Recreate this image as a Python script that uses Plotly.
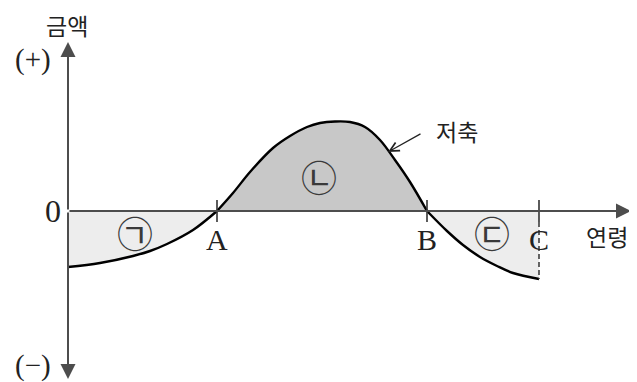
import plotly.graph_objects as go

# Schematic values (age on x, amount on y; origin at axes crossing)
age_a = 149
age_b = 359
age_c = 471

seg1_x = [0, 32, 65, 82, 99, 125, 149]
seg1_y = [-56, -52, -45, -40, -33, -19, 0]

seg2_x = [149, 165, 182, 205, 222, 239, 252, 267, 282, 297, 312, 327, 342, 359]
seg2_y = [0, 18, 39, 63, 75, 84, 88, 89.5, 89, 84, 71, 51, 29, 0]

seg3_x = [359, 379, 395, 412, 429, 445, 471]
seg3_y = [0, -20, -34, -46, -55, -62, -68]

point_labels = ["A", "B", "C"]
region_labels = ["㉠", "㉡", "㉢"]

SERIF = "Liberation Serif, Times New Roman, serif"
KR = "Noto Sans CJK KR, sans-serif"
AXC = "#4d4d4d"

fig = go.Figure()

fig.add_trace(go.Scatter(x=seg1_x, y=seg1_y, mode="lines", fill="tozeroy",
                         fillcolor="#ededed", line=dict(color="black", width=2.4, shape="spline"),
                         hoverinfo="skip"))
fig.add_trace(go.Scatter(x=seg2_x, y=seg2_y, mode="lines", fill="tozeroy",
                         fillcolor="#c8c8c8", line=dict(color="black", width=2.4, shape="spline"),
                         hoverinfo="skip"))
fig.add_trace(go.Scatter(x=seg3_x, y=seg3_y, mode="lines", fill="tozeroy",
                         fillcolor="#ededed", line=dict(color="black", width=2.4, shape="spline"),
                         hoverinfo="skip"))

shapes = []
# tick marks at A, B, C
for xv in [age_a, age_b, age_c]:
    shapes.append(dict(type="line", x0=xv, x1=xv, y0=11, y1=-11,
                       line=dict(color="#333333", width=1.6), layer="above"))
# dashed line at C down to curve end
shapes.append(dict(type="line", x0=age_c, x1=age_c, y0=-11, y1=seg3_y[-1],
                   line=dict(color="#333333", width=1.5, dash="5px,3px"), layer="above"))

annotations = []
# axes with arrows
for tip in [(563, 0), (0, 169), (0, -168)]:
    annotations.append(dict(x=tip[0], y=tip[1], ax=0, ay=0, xref="x", yref="y",
                            axref="x", ayref="y", text="", showarrow=True,
                            arrowhead=2, arrowwidth=2, arrowsize=1.5, arrowcolor=AXC))
# arrow for 저축
annotations.append(dict(x=320, y=59, ax=354, ay=78, xref="x", yref="y", axref="x", ayref="y",
                        text="", showarrow=True, arrowhead=5, arrowwidth=1.3, arrowsize=1.4,
                        arrowcolor="#222222"))

def txt(x, y, s, size, family, color="#222222"):
    annotations.append(dict(x=x, y=y, xref="x", yref="y", text=s, showarrow=False,
                            font=dict(size=size, family=family, color=color),
                            xanchor="center", yanchor="middle"))

txt(-1, 186, "금액", 23, KR)
txt(-35, 152, "(+)", 29, SERIF)
txt(-35, -154, "(−)", 29, SERIF)
txt(-15, 0, "0", 32, SERIF)
for xv, lab in zip([age_a, age_b, age_c], point_labels):
    txt(xv, -28, lab, 30, SERIF)
txt(539, -25, "연령", 23, KR)
txt(389, 80, "저축", 23, KR)
txt(67, -21, region_labels[0], 36, KR, "#3a3a3a")
txt(251, 35, region_labels[1], 36, KR, "#3a3a3a")
txt(424, -21, region_labels[2], 36, KR, "#3a3a3a")

# page body has an 8px margin; the figure is sized and ranged so the drawing
# lands where the reference has it
fig.update_layout(
    width=629, height=374,
    margin=dict(l=0, r=0, t=0, b=0),
    paper_bgcolor="white", plot_bgcolor="white",
    showlegend=False,
    xaxis=dict(range=[-60, 569], visible=False, fixedrange=True),
    yaxis=dict(range=[-171, 203], visible=False, fixedrange=True),
    shapes=shapes, annotations=annotations,
)

fig.write_html("out.html", config={"displayModeBar": False})
